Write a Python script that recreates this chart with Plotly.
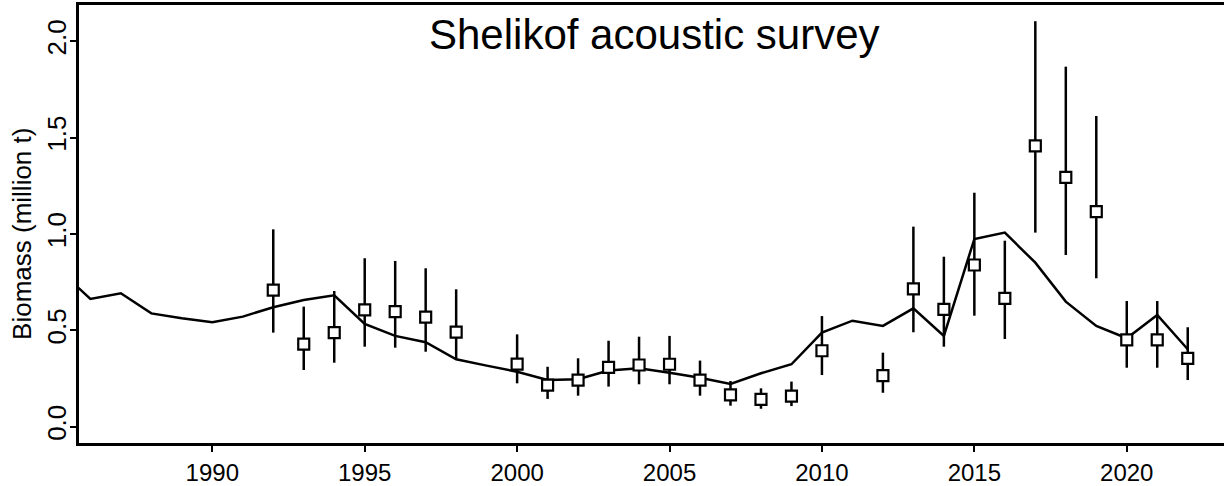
import plotly.graph_objects as go

# Model-estimated biomass (million t)
model_years = [1985, 1986, 1987, 1988, 1989, 1990, 1991, 1992, 1993, 1994, 1995, 1996, 1997,
               1998, 1999, 2000, 2001, 2002, 2003, 2004, 2005, 2006, 2007, 2008, 2009, 2010,
               2011, 2012, 2013, 2014, 2015, 2016, 2017, 2018, 2019, 2020, 2021, 2022]
model_biomass = [0.81, 0.663, 0.692, 0.588, 0.563, 0.542, 0.571, 0.620, 0.657, 0.682, 0.533, 0.471,
                 0.438, 0.350, 0.317, 0.285, 0.242, 0.246, 0.291, 0.303, 0.280, 0.254, 0.222,
                 0.277, 0.324, 0.488, 0.550, 0.523, 0.614, 0.471, 0.974, 1.007, 0.851, 0.649,
                 0.523, 0.459, 0.580, 0.402]

# Survey observations with confidence intervals
obs_years = [1992, 1993, 1994, 1995, 1996, 1997, 1998, 2000, 2001, 2002, 2003, 2004, 2005,
             2006, 2007, 2008, 2009, 2010, 2012, 2013, 2014, 2015, 2016, 2017, 2018, 2019,
             2020, 2021, 2022]
obs_biomass = [0.709, 0.428, 0.488, 0.606, 0.597, 0.568, 0.491, 0.325, 0.216, 0.242, 0.308,
               0.320, 0.324, 0.242, 0.165, 0.142, 0.159, 0.394, 0.265, 0.715, 0.609, 0.839,
               0.666, 1.457, 1.294, 1.116, 0.450, 0.450, 0.355]
obs_upper = [1.024, 0.623, 0.704, 0.874, 0.860, 0.822, 0.713, 0.479, 0.311, 0.355, 0.446,
             0.467, 0.471, 0.343, 0.237, 0.199, 0.234, 0.574, 0.384, 1.038, 0.882, 1.214,
             0.965, 2.104, 1.868, 1.612, 0.652, 0.652, 0.516]
obs_lower = [0.488, 0.294, 0.332, 0.415, 0.410, 0.389, 0.350, 0.225, 0.144, 0.161, 0.208,
             0.220, 0.220, 0.161, 0.109, 0.093, 0.107, 0.268, 0.176, 0.490, 0.415, 0.576,
             0.455, 1.007, 0.891, 0.770, 0.306, 0.306, 0.242]

x_ticks = [1990, 1995, 2000, 2005, 2010, 2015, 2020]
y_ticks = [0.0, 0.5, 1.0, 1.5, 2.0]
y_tick_text = ["0.0", "0.5", "1.0", "1.5", "2.0"]

err_plus = [u - b for u, b in zip(obs_upper, obs_biomass)]
err_minus = [b - l for b, l in zip(obs_biomass, obs_lower)]

FONT = "Liberation Sans, Arial, sans-serif"

fig = go.Figure()
fig.add_trace(go.Scatter(
    x=model_years, y=model_biomass, mode="lines",
    line=dict(color="black", width=2.5), showlegend=False, hoverinfo="skip"))
fig.add_trace(go.Scatter(
    x=obs_years, y=obs_biomass, mode="markers",
    marker=dict(symbol="square", size=11, color="white",
                line=dict(color="black", width=2.2)),
    error_y=dict(type="data", symmetric=False, array=err_plus, arrayminus=err_minus,
                 color="black", thickness=2.5, width=0),
    showlegend=False))

fig.add_annotation(text="Shelikof acoustic survey", xref="paper", yref="y",
                   x=0.503, y=2.035, xanchor="center", yanchor="middle",
                   showarrow=False, font=dict(family=FONT, size=42, color="black"))
fig.add_annotation(text="Biomass (million t)", xref="paper", yref="y",
                   x=-0.0498, y=1.0, xanchor="center", yanchor="middle", textangle=-90,
                   showarrow=False, font=dict(family=FONT, size=26, color="black"))

fig.update_layout(
    template="none",
    width=1224, height=486,
    margin=dict(l=79, r=0, t=5, b=43, pad=0),
    paper_bgcolor="white", plot_bgcolor="white",
    font=dict(family=FONT, color="black"),
    xaxis=dict(range=[1985.627, 2023.19], tickmode="array", tickvals=x_ticks,
               showgrid=False, zeroline=False, showline=True, mirror=True,
               linecolor="black", linewidth=2.5, ticks="outside", ticklen=6,
               tickwidth=2, tickcolor="black", tickfont=dict(size=24, family=FONT),
               automargin=False),
    yaxis=dict(range=[-0.0846, 2.188], tickmode="array", tickvals=y_ticks,
               ticktext=y_tick_text, tickangle=-90, ticklabelstandoff=-6,
               showgrid=False, zeroline=False, showline=True, mirror=False,
               linecolor="black", linewidth=2.5, ticks="outside", ticklen=6,
               tickwidth=2, tickcolor="black", tickfont=dict(size=26, family=FONT),
               automargin=False),
)

fig.write_html("out.html", config={"displayModeBar": False},
               post_script="document.body.style.margin='0';")
